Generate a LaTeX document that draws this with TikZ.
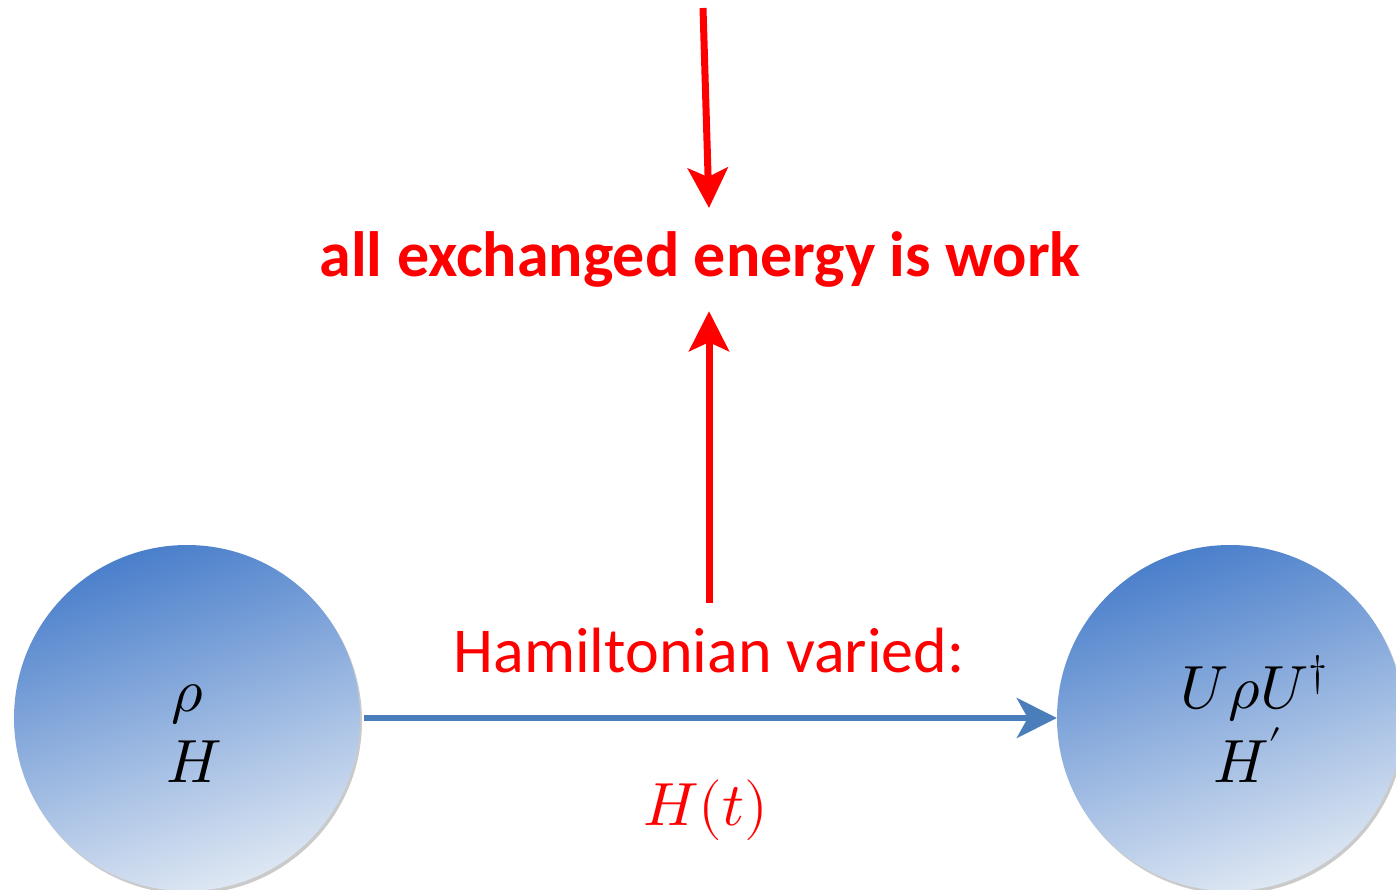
\documentclass[tikz,border=0pt]{standalone}
\usepackage{fontspec}
\usepackage{unicode-math}
\setmainfont{Carlito}
\setmathfont{Latin Modern Math}
\usetikzlibrary{arrows.meta,shadows,calc}
\definecolor{redA}{RGB}{255,0,0}
\definecolor{blueA}{RGB}{74,126,187}
\definecolor{circTop}{RGB}{74,127,203}
\definecolor{circBot}{RGB}{222,231,243}
\tikzset{
  state/.style={circle,minimum size=346pt,inner sep=0pt,shading=axis,top color=circTop,bottom color=circBot,shading angle=18,
    drop shadow={shadow xshift=2pt,shadow yshift=-3pt,opacity=0.35,fill=black!60}},
  mathlbl/.style={inner sep=0pt,anchor=base,font=\fontsize{61}{71}\selectfont},
  redarrow/.style={draw=redA,line width=7pt,-{Stealth[length=40pt,width=40pt,inset=9pt]}},
  bluearrow/.style={draw=blueA,line width=6pt,-{Stealth[length=40pt,width=40pt,inset=11pt]}},
  lbl/.style={text=redA,inner sep=0pt}
}
\begin{document}
\begin{tikzpicture}[x=1pt,y=-1pt]
\useasboundingbox (0,0) rectangle (1396,890);
\clip (0,0) rectangle (1396,890);
\node[state] (L) at (187,718) {};
\node[state] (R) at (1230,718) {};
\node[mathlbl] (Lrho) at (188,711) {$\rho$};
\node[mathlbl] (LH) at (194,782) {$H$};
\node[mathlbl] (Rtop) at (1254,708) {$U\rho U^\dagger$};
\node[mathlbl] (RH) at (1248,782) {$H'$};
\draw[bluearrow] (L.east) ++(4,0) coordinate (bs) (bs) -- (R.west);
\node[lbl,font=\fontsize{64}{64}\bfseries\selectfont,text height=45pt,text depth=15pt] (work) at (700,262) {all exchanged energy is work};
\node[lbl,font=\fontsize{64}{64}\selectfont,text height=45pt,text depth=15pt] (ham) at (709,657) {Hamiltonian varied:};
\node[lbl,mathlbl] (Ht) at (706,825) {$H(t)$};
\coordinate (src) at (703,8);
\coordinate (tipA) at (709,208);
\draw[redarrow] (src) -- (tipA);
\draw[redarrow,shorten <=24pt,shorten >=19pt] (ham.north) -- (ham.north |- work.south);
\end{tikzpicture}
\end{document}
